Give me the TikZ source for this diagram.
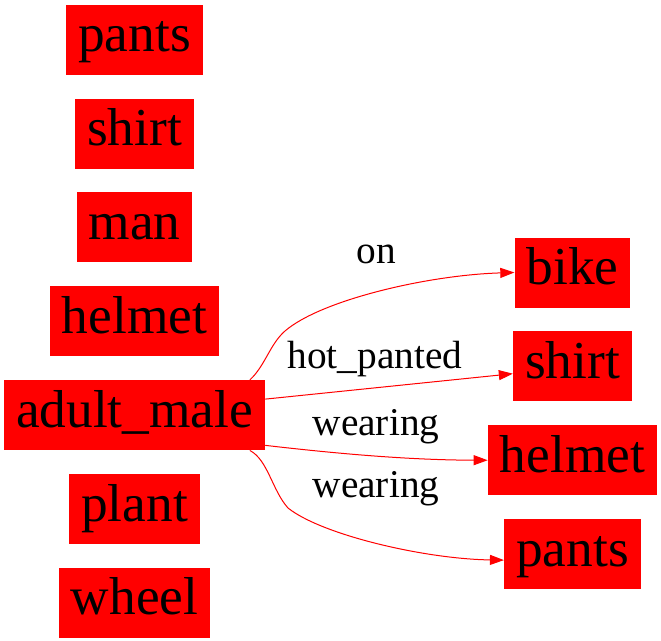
\documentclass[tikz,border=0pt]{standalone}
\usepackage{fontspec}
\setmainfont{Liberation Serif}
\usetikzlibrary{arrows.meta, positioning}

\begin{document}
\begin{tikzpicture}[
    x=0.75pt, y=-0.75pt,
    node distance=17.5pt,
    box/.style={rectangle, fill=red, minimum height=52.5pt, inner xsep=9pt, inner ysep=5pt, text height=30pt, text depth=12pt, font=\fontsize{40}{48}\selectfont},
    lbl/.style={anchor=base, inner sep=0pt, font=\fontsize{29.5}{35}\selectfont},
    edge/.style={-{Triangle[length=10.5pt, width=7.5pt]}, red, line width=0.75pt},
]
\useasboundingbox (0,0) rectangle (661,640);

% Nodes -- left column
\node[box] (pants) at (134.5,39.7) {pants};
\node[box, below=of pants] (shirt) {shirt};
\node[box, below=of shirt] (man) {man};
\node[box, below=of man] (helmet) {helmet};
\node[box, below=of helmet] (adult) {adult\_male};
\node[box, below=of adult] (plant) {plant};
\node[box, below=of plant] (wheel) {wheel};

% Nodes -- right column
\node[box] (bike) at (572.5,272.5) {bike};
\node[box, below=of bike] (shirt2) {shirt};
\node[box, below=of shirt2] (helmet2) {helmet};
\node[box, below=of helmet2] (pants2) {pants};

% Edges
\draw[edge] (adult.17) .. controls (265,366) and (270,344) .. (285,331)
    .. controls (321,300) and (428,275) .. (bike.west);
\draw[edge] (adult.7) -- (shirt2.187);
\draw[edge] (adult.-13) .. controls (340,454) and (410,460) .. (helmet2.west);
\draw[edge] (adult.-17) .. controls (268,460) and (272,490) .. (288,508)
    .. controls (322,535) and (425,559) .. (pants2.185);

% Edge labels
\node[lbl] (lon) at (376,263) {on};
\node[lbl] (lhot) at (375,368) {hot\_panted};
\node[lbl] (lwear) at (376,435) {wearing};
\node[lbl] (lwear2) at (376,497) {wearing};

\end{tikzpicture}
\end{document}
